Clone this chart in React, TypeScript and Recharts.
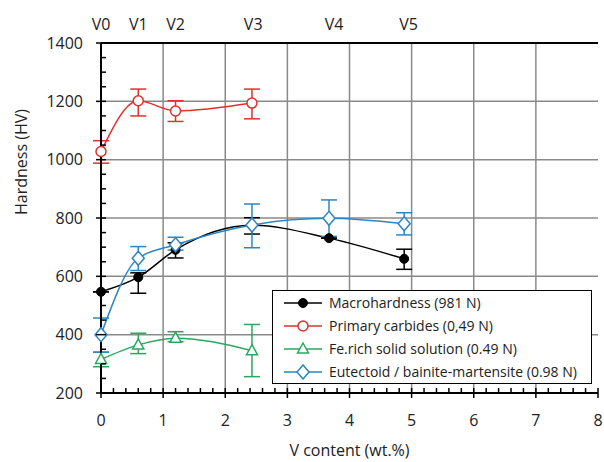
import React from 'react';
import {
  LineChart,
  Line,
  XAxis,
  YAxis,
  ReferenceLine,
  ErrorBar,
  Legend,
} from 'recharts';

const FONT = '"Open Sans", sans-serif';

// V content of the alloys V0..V5 (wt.%)
const vContent = [0, 0.6, 1.2, 2.43, 3.67, 4.88];
const vLabels = ['V0', 'V1', 'V2', 'V3', 'V4', 'V5'];
const vLabelPos = [0, 0.6, 1.2, 2.45, 3.75, 4.95];

const macroHardness = [547, 597, 691, 775, 731, 660];
const macroErr = [[0, 0], [55, 15], [28, 24], [30, 26], [0, 0], [36, 33]];

const carbides = [1028, 1202, 1167, 1194];
const carbidesErr = [[40, 37], [52, 40], [36, 35], [54, 48]];

const feSolution = [315, 365, 388, 345];
const feSolutionErr = [[25, 25], [30, 40], [12, 22], [89, 90]];

const eutectoid = [400, 662, 708, 776, 799, 780];
const eutectoidErr = [[60, 57], [42, 40], [18, 26], [78, 72], [62, 63], [38, 38]];

const xTicks = [0, 1, 2, 3, 4, 5, 6, 7, 8];
const xMinorTicks = Array.from({ length: 41 }, (_, i) => +(i * 0.2).toFixed(1));
const yTicks = [200, 400, 600, 800, 1000, 1200, 1400];
const yMinorTicks = Array.from({ length: 25 }, (_, i) => 200 + i * 50);

const BLACK = '#000000';
const RED = '#e0302c';
const GREEN = '#2aa860';
const BLUE = '#2b86c5';
const GRID = '#8a8a8a';

const toPoints = (vals: number[], errs: number[][]) =>
  vals.map((v, i) => ({ x: vContent[i], y: v, err: errs[i] }));

const macroData = toPoints(macroHardness, macroErr);
const carbidesData = toPoints(carbides, carbidesErr);
const feData = toPoints(feSolution, feSolutionErr);
const eutData = toPoints(eutectoid, eutectoidErr);

const FilledCircle = ({ cx, cy }: any) =>
  cx == null ? null : <circle cx={cx} cy={cy} r={4.5} fill={BLACK} stroke={BLACK} />;

const OpenCircle = ({ cx, cy }: any) =>
  cx == null ? null : <circle cx={cx} cy={cy} r={5} fill="#fff" stroke={RED} strokeWidth={1.5} />;

const Triangle = ({ cx, cy }: any) =>
  cx == null ? null : (
    <path
      d={`M${cx},${cy - 6} L${cx + 5.5},${cy + 4} L${cx - 5.5},${cy + 4} Z`}
      fill="#fff"
      stroke={GREEN}
      strokeWidth={1.5}
    />
  );

const Diamond = ({ cx, cy }: any) =>
  cx == null ? null : (
    <path
      d={`M${cx},${cy - 7} L${cx + 6},${cy} L${cx},${cy + 7} L${cx - 6},${cy} Z`}
      fill="#fff"
      stroke={BLUE}
      strokeWidth={1.5}
    />
  );

const series = [
  { name: 'Macrohardness (981 N)', color: BLACK, data: macroData, Dot: FilledCircle },
  { name: 'Primary carbides (0,49 N)', color: RED, data: carbidesData, Dot: OpenCircle },
  { name: 'Fe.rich solid solution (0.49 N)', color: GREEN, data: feData, Dot: Triangle },
  { name: 'Eutectoid / bainite-martensite (0.98 N)', color: BLUE, data: eutData, Dot: Diamond },
];

const LegendBox = () => (
  <div
    style={{
      border: '1.5px solid #000',
      background: '#fff',
      padding: '0 0 0 11px',
      fontFamily: FONT,
      fontSize: 14,
      color: '#222',
      textAlign: 'left',
    }}
  >
    {series.map((s) => (
      <div key={s.name} style={{ display: 'flex', alignItems: 'center', height: 23 }}>
        <svg width={38} height={16}>
          <line x1={0} y1={8} x2={38} y2={8} stroke={s.color} strokeWidth={1.5} />
          <s.Dot cx={19} cy={8} />
        </svg>
        <span style={{ marginLeft: 7, whiteSpace: 'nowrap' }}>{s.name}</span>
      </div>
    ))}
  </div>
);

const YLabel = ({ viewBox }: any) => {
  const x = viewBox.x + 21;
  const y = 162;
  return (
    <text
      x={x}
      y={y}
      transform={`rotate(-90, ${x}, ${y})`}
      textAnchor="middle"
      dominantBaseline="central"
      fontFamily={FONT}
      fontSize={16}
      fill="#222"
    >
      Hardness (HV)
    </text>
  );
};

// minor ticks point into the plot, major ticks cross the axis and carry a label
const XTick = ({ x, y, payload }: any) => {
  const v = payload.value;
  const major = xTicks.includes(v);
  return (
    <g>
      <line x1={x} x2={x} y1={y} y2={y - 5} stroke="#000" strokeWidth={1.5} />
      {major && <line x1={x} x2={x} y1={y} y2={y + 5} stroke="#000" strokeWidth={1.5} />}
      {major && (
        <text x={x} y={y + 33} textAnchor="middle" fontFamily={FONT} fontSize={16} fill="#222">
          {v}
        </text>
      )}
    </g>
  );
};

const YTick = ({ x, y, payload }: any) => {
  const v = payload.value;
  const major = yTicks.includes(v);
  return (
    <g>
      <line x1={x} x2={x + 5} y1={y} y2={y} stroke="#000" strokeWidth={1.5} />
      {major && <line x1={x - 5} x2={x} y1={y} y2={y} stroke="#000" strokeWidth={1.5} />}
      {major && (
        <text x={x - 18} y={y + 5.5} textAnchor="end" fontFamily={FONT} fontSize={16} fill="#222">
          {v}
        </text>
      )}
    </g>
  );
};

const tickStyle = { fontFamily: FONT, fontSize: 16, fill: '#222' };

export default function App() {
  return (
    <div>
      <style>{'body{margin:0}'}</style>
      <LineChart
        width={604}
        height={462}
        data={eutData}
        margin={{ top: 0, right: 6, bottom: 0, left: 0 }}
      >
        <XAxis
          xAxisId="main"
          type="number"
          dataKey="x"
          domain={[0, 8]}
          ticks={xMinorTicks}
          interval={0}
          tick={XTick}
          axisLine={{ stroke: '#000', strokeWidth: 2 }}
          tickLine={false}
          tickSize={0}
          tickMargin={0}
          height={69}
          label={{
            value: 'V content (wt.%)',
            position: 'insideBottom',
            offset: 6,
            style: { fontFamily: FONT, fontSize: 16, fill: '#222' },
          }}
        />
        <XAxis
          xAxisId="top"
          orientation="top"
          type="number"
          dataKey="x"
          domain={[0, 8]}
          ticks={vLabelPos}
          interval={0}
          tickFormatter={(v: number, i: number) => vLabels[i] ?? ''}
          tick={tickStyle}
          axisLine={{ stroke: '#000', strokeWidth: 2 }}
          tickLine={false}
          tickSize={0}
          tickMargin={13}
          height={43}
        />
        <YAxis
          yAxisId="main"
          type="number"
          domain={[200, 1400]}
          ticks={yMinorTicks}
          interval={0}
          tick={YTick}
          axisLine={{ stroke: '#000', strokeWidth: 2 }}
          tickLine={false}
          tickSize={0}
          tickMargin={0}
          width={101}
          label={<YLabel />}
        />
        <YAxis
          yAxisId="right"
          orientation="right"
          type="number"
          domain={[200, 1400]}
          tick={false}
          tickLine={false}
          axisLine={{ stroke: '#000', strokeWidth: 2 }}
          width={0}
        />
        {xTicks.slice(1, -1).map((t) => (
          <ReferenceLine key={`gx${t}`} xAxisId="main" yAxisId="main" x={t} stroke={GRID} strokeWidth={1.5} />
        ))}
        {yTicks.slice(1, -1).map((t) => (
          <ReferenceLine key={`gy${t}`} xAxisId="main" yAxisId="main" y={t} stroke={GRID} strokeWidth={1.5} />
        ))}
        {series.map((s) => (
          <Line
            key={s.name}
            xAxisId="main"
            yAxisId="main"
            data={s.data}
            dataKey="y"
            name={s.name}
            type="monotone"
            stroke={s.color}
            strokeWidth={1.5}
            dot={(p: any) => <s.Dot key={`${s.name}-${p.index}`} cx={p.cx} cy={p.cy} />}
            activeDot={false}
            isAnimationActive={false}
          >
            <ErrorBar
              dataKey="err"
              direction="y"
              width={8}
              stroke={s.color}
              strokeWidth={1.5}
              isAnimationActive={false}
            />
          </Line>
        ))}
        <Legend
          layout="horizontal"
          verticalAlign="middle"
          align="center"
          wrapperStyle={{ left: 272, top: 290, width: 320 }}
          content={<LegendBox />}
        />
      </LineChart>
    </div>
  );
}
